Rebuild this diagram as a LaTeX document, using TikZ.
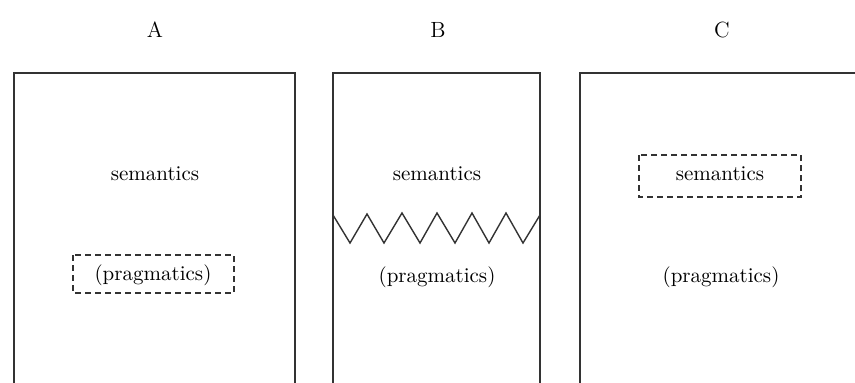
\documentclass[tikz,border=0pt]{standalone}
\begin{document}
\begin{tikzpicture}[x=0.5pt,y=-0.5pt,
  frame/.style={draw=black!80, line width=0.8pt},
  dbox/.style={draw=black!80, dashed, dash pattern=on 3pt off 2pt, line width=0.7pt},
  lbl/.style={font=\fontsize{10.5}{12}\selectfont, inner sep=0pt},
  title/.style={font=\fontsize{11}{13}\selectfont, inner sep=0pt}]
\useasboundingbox (0,0) rectangle (855,382);
\clip (0,0) rectangle (855,382);
% titles
\node[title] (tA) at (155,30) {A};
\node[title] (tB) at (438,30) {B};
\node[title] (tC) at (722,30) {C};
% frames (open at bottom)
\draw[frame] (14,400) -- (14,73) -- (295,73) -- (295,400);
\draw[frame] (333,400) -- (333,73) -- (540,73) -- (540,400);
\draw[frame] (580,400) -- (580,73) -- (870,73) -- (870,400);
% A
\node[lbl] (semA) at (155,174) {semantics};
\draw[dbox] (73,255) rectangle (234,293);
\node[lbl] (praA) at (153,275) {(pragmatics)};
% B
\node[lbl] (semB) at (437,174) {semantics};
\draw[frame, line width=0.7pt] (333,215) -- (350,243) -- (367,214) -- (384,243) -- (402,213)
  -- (420,243) -- (437,213) -- (455,243) -- (472,213) -- (489,243) -- (506,213)
  -- (523,243) -- (540,215);
\node[lbl] (praB) at (437,277) {(pragmatics)};
% C
\draw[dbox] (639,155) rectangle (801,197);
\node[lbl] (semC) at (720,174) {semantics};
\node[lbl] (praC) at (721,277) {(pragmatics)};
\end{tikzpicture}
\end{document}
